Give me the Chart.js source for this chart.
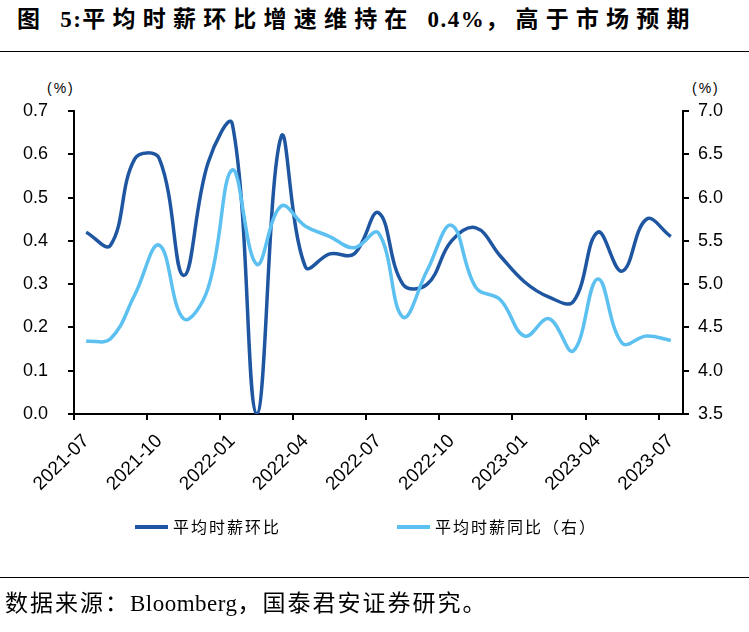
<!DOCTYPE html>
<html lang="zh-CN">
<head>
<meta charset="UTF-8">
<title>平均时薪环比增速维持在 0.4%</title>
<script src="https://cdn.jsdelivr.net/npm/chart.js"></script>
<style>
  body { margin: 0; width: 749px; height: 632px; background: #fff; position: relative; overflow: hidden; }
  #title { position: absolute; left: 17px; top: 4px; font: bold 23px "Liberation Serif", "Noto Sans CJK SC"; letter-spacing: 7.2px; line-height: 32px; white-space: nowrap; color: #000; }
  .latin { font-family: "Liberation Serif", serif; letter-spacing: 1.5px; }
  .rule { position: absolute; left: 0; width: 749px; height: 0; border-top: 1.5px solid #000; }
  #source { position: absolute; left: 5px; top: 589px; font: 23px "Liberation Serif", "Noto Sans CJK SC"; letter-spacing: 2px; line-height: 30px; white-space: nowrap; color: #000; }
  #source .latin { letter-spacing: 0.5px; }
  .unit { position: absolute; top: 80px; font: 14px "Liberation Sans", "Noto Sans CJK SC"; letter-spacing: 2px; color: #000; }
  #box { position: absolute; left: 0; top: 0; }
</style>
</head>
<body>
  <div id="title">图 <span class="latin">5:</span>平均时薪环比增速维持在 <span class="latin">0.4%</span>，高于市场预期</div>
  <div class="rule" style="top:51px"></div>
  <div class="unit" style="left:47px">(%)</div>
  <div class="unit" style="left:692px">(%)</div>
  <canvas id="box" width="749" height="632"></canvas>
  <div class="rule" style="top:577px"></div>
  <div id="source">数据来源：<span class="latin">Bloomberg</span>，国泰君安证券研究。</div>

<script>
// 月份 2021-07 ~ 2023-07
const months = [
  '2021-07', '2021-08', '2021-09', '2021-10', '2021-11', '2021-12',
  '2022-01', '2022-02', '2022-03', '2022-04', '2022-05', '2022-06',
  '2022-07', '2022-08', '2022-09', '2022-10', '2022-11', '2022-12',
  '2023-01', '2023-02', '2023-03', '2023-04', '2023-05', '2023-06',
  '2023-07'
];

// 平均时薪环比 (左轴, %)
const momWage = [
  0.42, 0.39, 0.59, 0.59, 0.32, 0.58,
  0.67, 0.00, 0.64, 0.34, 0.37, 0.37,
  0.465, 0.30, 0.30, 0.40, 0.43, 0.365,
  0.305, 0.27, 0.26, 0.42, 0.33, 0.45,
  0.41
];

// 平均时薪同比 (右轴, %)
const yoyWage = [
  4.34, 4.37, 4.88, 5.45, 4.60, 4.95,
  6.32, 5.23, 5.90, 5.67, 5.55, 5.42,
  5.59, 4.62, 5.16, 5.68, 4.96, 4.82,
  4.40, 4.60, 4.23, 5.06, 4.32, 4.40,
  4.35
];

const leftTicks = { min: 0, max: 0.7, step: 0.1 };
const rightTicks = { min: 3.5, max: 7.0, step: 0.5 };

const darkBlue = '#1F56A1';
const lightBlue = '#5CC0F1';

// 图例画在图表下方
const bottomLegend = {
  id: 'bottomLegend',
  afterDraw(chart) {
    const ctx = chart.ctx;
    const spots = [135, 397];
    ctx.save();
    ctx.font = '16px "Noto Sans CJK SC"';
    ctx.letterSpacing = '2px';
    ctx.textBaseline = 'middle';
    chart.data.datasets.forEach((ds, i) => {
      const x = spots[i], y = 527;
      ctx.strokeStyle = ds.borderColor;
      ctx.lineWidth = 4;
      ctx.beginPath();
      ctx.moveTo(x, y);
      ctx.lineTo(x + 33, y);
      ctx.stroke();
      ctx.fillStyle = '#000';
      ctx.fillText(ds.label, x + 38, y);
    });
    ctx.restore();
  }
};

const tickFont = { family: 'Liberation Sans', size: 18 };

new Chart(document.getElementById('box'), {
  type: 'line',
  data: {
    labels: months,
    datasets: [
      {
        label: '平均时薪环比',
        data: momWage,
        yAxisID: 'y',
        borderColor: darkBlue,
        borderWidth: 3.5,
        tension: 0.4,
        pointRadius: 0,
        order: 2
      },
      {
        label: '平均时薪同比（右）',
        data: yoyWage,
        yAxisID: 'y1',
        borderColor: lightBlue,
        borderWidth: 3.5,
        tension: 0.4,
        pointRadius: 0,
        order: 1
      }
    ]
  },
  options: {
    responsive: false,
    animation: false,
    devicePixelRatio: 1,
    layout: { padding: { top: 111, right: 0, bottom: 118, left: 0 } },
    plugins: { legend: { display: false }, tooltip: { enabled: false } },
    scales: {
      x: {
        offset: true,
        grid: {
          offset: true,
          drawOnChartArea: false,
          tickLength: 6,
          lineWidth: 2,
          color: c => (c.index % 3 === 0 ? '#000' : 'rgba(0,0,0,0)')
        },
        border: { color: '#000', width: 2 },
        ticks: {
          autoSkip: false,
          minRotation: 45,
          maxRotation: 45,
          padding: 10,
          color: '#000',
          font: { family: 'Liberation Sans', size: 19 },
          callback: (v, i) => (i % 3 === 0 ? months[i] : '')
        },
        afterFit: s => { s.height = 100; }
      },
      y: {
        position: 'left',
        min: leftTicks.min,
        max: leftTicks.max,
        grid: { drawOnChartArea: false, tickLength: 6, lineWidth: 2, color: '#000' },
        border: { color: '#000', width: 2 },
        ticks: {
          stepSize: leftTicks.step,
          padding: 20,
          color: '#000',
          font: tickFont,
          callback: v => v.toFixed(1)
        },
        afterFit: s => { s.width = 74; }
      },
      y1: {
        position: 'right',
        min: rightTicks.min,
        max: rightTicks.max,
        grid: { drawOnChartArea: false, tickLength: 6, lineWidth: 2, color: '#000' },
        border: { color: '#000', width: 2 },
        ticks: {
          stepSize: rightTicks.step,
          padding: 9,
          color: '#000',
          font: tickFont,
          callback: v => v.toFixed(1)
        },
        afterFit: s => { s.width = 66; }
      }
    }
  },
  plugins: [bottomLegend]
});
</script>
</body>
</html>
